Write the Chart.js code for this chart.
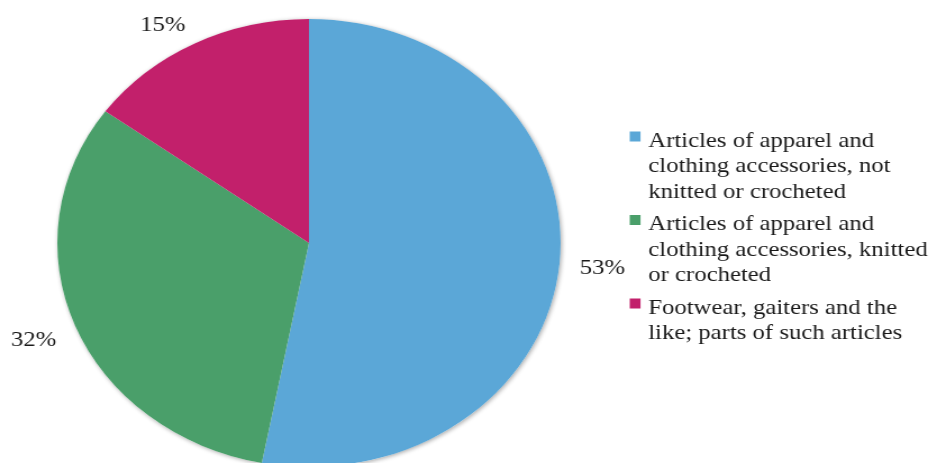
<!DOCTYPE html>
<html>
<head>
<meta charset="utf-8">
<script src="https://cdn.jsdelivr.net/npm/chart.js@4.4.1/dist/chart.umd.min.js"></script>
<style>
  html, body { margin: 0; padding: 0; background: #fff; overflow: hidden; }
  #frame { width: 937px; height: 463px; overflow: hidden; }
  /* the chart is laid out narrow, then widened to the page */
  #wrap { width: 834px; height: 470px; transform: scaleX(1.1235); transform-origin: 0 0; }
</style>
</head>
<body>
<div id="frame">
  <div id="wrap"><canvas id="pie" width="834" height="470"></canvas></div>
</div>
<script>
const categorias = [
  ['Articles of apparel and', 'clothing accessories, not', 'knitted or crocheted'],
  ['Articles of apparel and', 'clothing accessories, knitted', 'or crocheted'],
  ['Footwear, gaiters and the', 'like; parts of such articles']
];
const valores = [53, 32, 15];
const cores = ['#5ba7d7', '#4a9f6a', '#c2206b'];

const fonte = '22px "Liberation Serif", "Times New Roman", serif';
const corTexto = '#1a1a1a';

// soft shadow behind the whole pie, drawn once so the seams stay clean
const sombraPizza = {
  id: 'sombraPizza',
  beforeDatasetsDraw(chart) {
    const arc = chart.getDatasetMeta(0).data[0];
    if (!arc) return;
    const ctx = chart.ctx;
    ctx.save();
    ctx.shadowColor = 'rgba(0,0,0,0.35)';
    ctx.shadowBlur = 4;
    ctx.shadowOffsetX = 1;
    ctx.shadowOffsetY = 1;
    ctx.fillStyle = '#fff';
    ctx.beginPath();
    ctx.arc(arc.x, arc.y, arc.outerRadius, 0, Math.PI * 2);
    ctx.fill();
    ctx.restore();
  }
};

const limita = v => Math.max(-1, Math.min(1, v));

// percentage labels just outside each slice, kept inside the canvas
const rotulosFora = {
  id: 'rotulosFora',
  afterDatasetsDraw(chart) {
    const ctx = chart.ctx;
    const total = valores.reduce((a, b) => a + b, 0);
    ctx.save();
    ctx.font = fonte;
    ctx.fillStyle = corTexto;
    ctx.textAlign = 'center';
    ctx.textBaseline = 'middle';
    chart.getDatasetMeta(0).data.forEach((arc, i) => {
      const meio = (arc.startAngle + arc.endAngle) / 2;
      const dx = Math.cos(meio);
      const dy = Math.sin(meio);
      const dist = arc.outerRadius + 18;
      const texto = Math.round(valores[i] / total * 100) + '%';
      const largura = ctx.measureText(texto).width;
      const x = arc.x + dx * dist + limita(dx * 3) * largura / 2;
      let y = arc.y + dy * dist + limita(dy * 3) * 8.5;
      y = Math.max(y, 25);
      ctx.fillText(texto, x, y);
    });
    ctx.restore();
  }
};

// legend on the right with wrapped labels
const legendaLateral = {
  id: 'legendaLateral',
  afterDraw(chart) {
    const ctx = chart.ctx;
    const xCaixa = 560.5;
    const xTexto = 577;
    const alturaLinha = 25.5;
    let base = 146.5;
    ctx.save();
    ctx.font = fonte;
    ctx.textAlign = 'left';
    ctx.textBaseline = 'alphabetic';
    categorias.forEach((linhas, i) => {
      ctx.fillStyle = cores[i];
      ctx.fillRect(xCaixa, base - 15, 9.6, 10);
      ctx.fillStyle = corTexto;
      linhas.forEach((linha, j) => {
        ctx.fillText(linha, xTexto, base + j * alturaLinha);
      });
      base += linhas.length * alturaLinha + 7;
    });
    ctx.restore();
  }
};

new Chart(document.getElementById('pie'), {
  type: 'pie',
  data: {
    labels: categorias,
    datasets: [{
      data: valores,
      backgroundColor: cores,
      borderWidth: 0,
      offset: 0,
      hoverOffset: 0
    }]
  },
  options: {
    responsive: false,
    animation: false,
    events: [],
    layout: {
      padding: { left: 51, right: 335, top: 19, bottom: 3 }
    },
    plugins: {
      legend: { display: false },
      tooltip: { enabled: false }
    }
  },
  plugins: [sombraPizza, rotulosFora, legendaLateral]
});
</script>
</body>
</html>
